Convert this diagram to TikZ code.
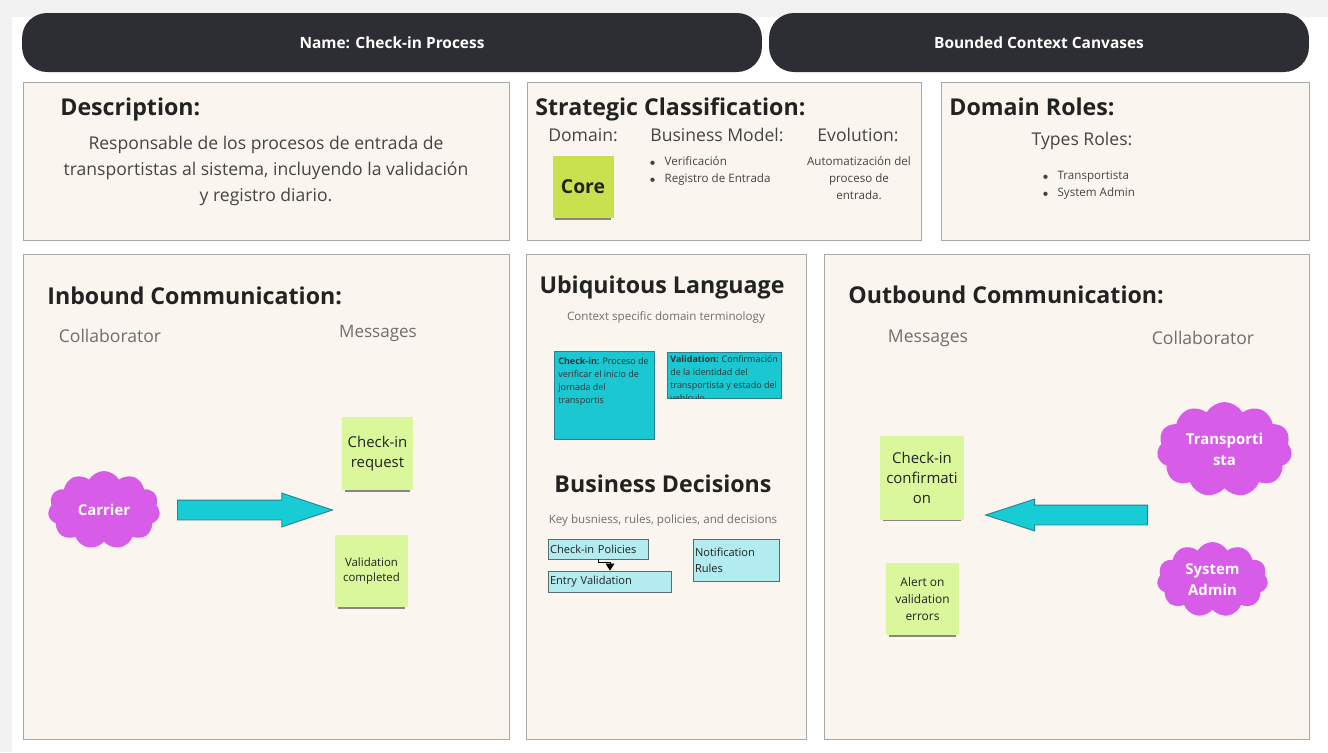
\documentclass[tikz,border=0pt]{standalone}
\usepackage{fontspec}
\setmainfont{Open Sans}
\usetikzlibrary{shapes.symbols,shapes.arrows,shadows,arrows.meta}

\definecolor{headbg}{HTML}{2D2E33}
\definecolor{panelbg}{HTML}{FAF6EF}
\definecolor{panelline}{HTML}{A8A8A8}
\definecolor{titletext}{HTML}{222222}
\definecolor{subtext}{HTML}{444444}
\definecolor{greytext}{HTML}{6E6E6E}
\definecolor{coregreen}{HTML}{C9E14F}
\definecolor{stickgreen}{HTML}{DAF79B}
\definecolor{stickteal}{HTML}{1BC7D1}
\definecolor{tealline}{HTML}{2C7F8C}
\definecolor{lightcyan}{HTML}{B2ECF0}
\definecolor{cyanline}{HTML}{5C6B70}
\definecolor{arrowteal}{HTML}{17CCD4}
\definecolor{cloudpink}{HTML}{D75CE8}

\begin{document}
\begin{tikzpicture}[x=0.02cm, y=-0.02cm]
    \useasboundingbox (0,0) rectangle (1328,752);
    \fill[black!5] (0,0) rectangle (1328,752);
    \fill[white] (12,17) rectangle (1328,752);
    \begin{scope}[pill/.style={fill=headbg,text=white,rounded corners=0.5cm,minimum height=1.18cm,font=\fontsize{8.8}{10}\selectfont\bfseries},
        panel/.style={draw=panelline,fill=panelbg,line width=0.6pt,anchor=north west,inner sep=0},
        title/.style={text=titletext,inner sep=0,text height=0.72em,text depth=0pt,font=\fontsize{13.2}{15}\selectfont\bfseries},
        sub/.style={text=subtext,inner sep=0,font=\fontsize{10}{12}\selectfont},
        small/.style={text=subtext,inner sep=0,font=\fontsize{6.6}{9.6}\selectfont},
        sticky/.style={fill=stickgreen,text=titletext,align=center,inner sep=0,
            drop shadow={shadow xshift=0pt,shadow yshift=-3pt,shadow scale=0.92,opacity=0.45,fill=black}},
        teal/.style={fill=stickteal,draw=tealline,line width=0.5pt,inner sep=0},
        rule/.style={fill=lightcyan,draw=cyanline,line width=0.5pt,inner sep=1pt,align=left,font=\fontsize{6.3}{9}\selectfont,text=titletext},
        actor/.style={cloud,cloud puffs=11,cloud puff arc=120,cloud ignores aspect,fill=cloudpink,text=white,align=center,inner sep=0,font=\fontsize{8.5}{12}\selectfont\bfseries},
        bigarrow/.style={single arrow,fill=arrowteal,draw=tealline,line width=0.5pt,inner xsep=0,inner ysep=0.19cm,minimum width=0,single arrow head indent=0,anchor=tail}]

        % header
        \node[pill, minimum width=14.8cm] (h1) at (392,42.5) {Name: Check-in Process};
        \node[pill, minimum width=10.8cm] (h2) at (1039,42.5) {Bounded Context Canvases};

        % top row
        \node[panel, minimum width=9.72cm, minimum height=3.16cm] (p1) at (23,82) {};
        \node[panel, minimum width=7.88cm, minimum height=3.16cm] (p2) at (527,82) {};
        \node[panel, minimum width=7.36cm, minimum height=3.16cm] (p3) at (941,82) {};
        % bottom row
        \node[panel, minimum width=9.72cm, minimum height=9.7cm] (p4) at (23,254) {};
        \node[panel, minimum width=5.6cm, minimum height=9.7cm] (p5) at (526,254) {};
        \node[panel, minimum width=9.7cm, minimum height=9.7cm] (p6) at (824,254) {};

        % description
        \node[title, anchor=west] (d0) at (60,109.5) {Description:};
        \node[sub, align=center, font=\fontsize{10}{14.7}\selectfont] (d1) at (266,171)
            {Responsable de los procesos de entrada de\\transportistas al sistema, incluyendo la validación\\y registro diario.};

        % strategic classification
        \node[title, anchor=west] (s0) at (535,109.5) {Strategic Classification:};
        \node[sub] (s1) at (583,135) {Domain:};
        \node[sub] (s2) at (717,135) {Business Model:};
        \node[sub] (s3) at (858,135) {Evolution:};
        \node[sticky, fill=coregreen, minimum width=1.22cm, minimum height=1.24cm, font=\fontsize{11}{13}\selectfont\bfseries] (core) at (583,187) {Core};
        \node[small, anchor=north west] (s4) at (649,153)
            {\begin{tabular}{@{}l@{\hspace{5pt}}l@{}}$\scriptscriptstyle\bullet$ & Verificación\\ $\scriptscriptstyle\bullet$ & Registro de Entrada\end{tabular}};
        \node[small, align=center] (s5) at (859,178) {Automatización del\\proceso de\\entrada.};

        % domain roles
        \node[title, anchor=west] (r0) at (949,109) {Domain Roles:};
        \node[sub] (r1) at (1082,141) {Types Roles:};
        \node[small, anchor=north west] (r2) at (1042,167)
            {\begin{tabular}{@{}l@{\hspace{5pt}}l@{}}$\scriptscriptstyle\bullet$ & Transportista\\ $\scriptscriptstyle\bullet$ & System Admin\end{tabular}};

        % inbound
        \node[title, anchor=west] (i0) at (47,298) {Inbound Communication:};
        \node[sub, text=greytext] (i1) at (110,336) {Collaborator};
        \node[sub, text=greytext, font=\fontsize{9.7}{12}\selectfont] (i2) at (378,333) {Messages};
        \node[actor, minimum width=2.24cm, minimum height=1.56cm] (c1) at (104,510) {Carrier};
        \node[bigarrow, minimum height=3.1cm, single arrow head extend=0.14cm, single arrow tip angle=37] (a1) at (177,510) {};
        \node[sticky, minimum width=1.42cm, minimum height=1.46cm, font=\fontsize{8.5}{11.3}\selectfont] (m1) at (377.5,453.5) {Check-in\\request};
        \node[sticky, minimum width=1.46cm, minimum height=1.44cm, font=\fontsize{6.5}{9}\selectfont] (m2) at (371.5,571) {Validation\\completed};

        % ubiquitous language
        \node[title] (u0) at (662,287.5) {Ubiquitous Language};
        \node[small, text=greytext] (u1) at (666,317) {Context specific domain terminology};
        \node[teal, minimum width=2cm, minimum height=1.76cm] (t1) at (604,395) {};
        \node[teal, minimum width=2.28cm, minimum height=0.92cm] (t2) at (724,375) {};
        \begin{scope}[every node/.style={anchor=north west,inner sep=0,align=left,text=black!80,font=\fontsize{5.1}{7.4}\selectfont}]
            \node (t1x) at (558,357) {\textbf{Check-in:} Proceso de\\verificar el inicio de\\jornada del\\transportis};
            \begin{scope}
                \clip (667,352) rectangle (781,398);
                \node (t2x) at (670,355) {\textbf{Validation:} Confirmación\\de la identidad del\\transportista y estado del\\vehículo};
            \end{scope}
        \end{scope}

        % business decisions
        \node[title] (b0) at (663,486.5) {Business Decisions};
        \node[small, text=greytext] (b1) at (663,520) {Key busniess, rules, policies, and decisions};
        \node[rule, text width=1.94cm, minimum height=0.4cm] (cp) at (598.5,549) {Check-in Policies};
        \node[rule, text width=2.4cm, minimum height=0.42cm] (ev) at (610,581.5) {Entry Validation};
        \node[rule, text width=1.66cm, minimum height=0.84cm] (nr) at (736.5,560) {Notification\\Rules\\[-2pt]};
        \draw[line width=0.5pt, -{Triangle[length=4pt,width=5pt]}] (cp.south) -- ++(0,3) -| (ev.north);

        % outbound
        \node[title, anchor=west] (o0) at (848,297) {Outbound Communication:};
        \node[sub, text=greytext] (o1) at (928,338) {Messages};
        \node[sub, text=greytext] (o2) at (1203,338) {Collaborator};
        \node[sticky, minimum width=1.68cm, minimum height=1.68cm, font=\fontsize{8.5}{11.6}\selectfont] (m3) at (922,478) {Check-in\\confirmati\\on};
        \node[sticky, minimum width=1.46cm, minimum height=1.44cm, font=\fontsize{6.8}{9.6}\selectfont] (m4) at (922.5,599) {Alert on\\validation\\errors};
        \node[bigarrow, shape border rotate=180, minimum height=3.24cm, single arrow head extend=0.12cm, single arrow tip angle=36] (a2) at (1148,515) {};
        \node[actor, minimum width=2.7cm, minimum height=1.9cm] (c2) at (1224.5,449.5) {Transporti\\sta};
        \node[actor, minimum width=2.22cm, minimum height=1.5cm] (c3) at (1212.5,579.5) {System\\Admin};
    \end{scope}
\end{tikzpicture}
\end{document}
